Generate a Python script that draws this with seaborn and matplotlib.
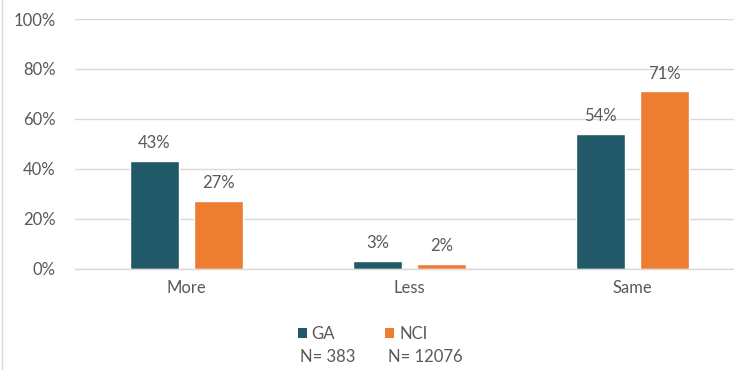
import pandas as pd
import matplotlib.pyplot as plt
import seaborn as sns
from matplotlib.patches import Patch
from matplotlib.lines import Line2D

categories = ['More', 'Less', 'Same']
ga_values = [43, 3, 54]
nci_values = [27, 2, 71]
groups = ['GA', 'NCI']
group_n = ['N= 383', 'N= 12076']
y_ticks = [0, 20, 40, 60, 80, 100]

colors = {'GA': '#215968', 'NCI': '#ED7D31'}
text_color = '#595959'

df = pd.DataFrame({
    'category': categories * 2,
    'group': ['GA'] * len(categories) + ['NCI'] * len(categories),
    'value': ga_values + nci_values,
})

sns.set_style('white')
plt.rcParams['font.family'] = ['Lato', 'DejaVu Sans']

fig = plt.figure(figsize=(7.34, 3.70), dpi=100)
ax = fig.add_axes([75 / 734, 101.5 / 370, 669 / 734, 249.5 / 370])

sns.barplot(data=df, x='category', y='value', hue='group', order=categories,
            hue_order=groups, palette=colors, width=0.574, gap=0.226,
            legend=False, ax=ax, saturation=1)

# Data labels above each bar
for container in ax.containers:
    ax.bar_label(container, fmt='%d%%', padding=7, fontsize=12, color=text_color)

ax.set_ylim(0, 100)
ax.set_xlim(-0.5, 2.5)
ax.set_yticks(y_ticks)
ax.set_yticklabels([f'{t}%' for t in y_ticks])
ax.yaxis.grid(True, color='#D9D9D9', linewidth=1)
ax.set_axisbelow(True)
ax.tick_params(axis='both', length=0, labelsize=12, labelcolor=text_color)
ax.tick_params(axis='y', pad=14)
ax.tick_params(axis='x', pad=8)
ax.set_xlabel('')
ax.set_ylabel('')
for side in ['top', 'right', 'left']:
    ax.spines[side].set_visible(False)
ax.spines['bottom'].set_color('#D9D9D9')
ax.spines['bottom'].set_linewidth(1)

# Legend at the bottom with sample sizes below
handles = [Patch(facecolor=colors[g], edgecolor='none') for g in groups]
fig.legend(handles, groups, loc='center', bbox_to_anchor=(0.494, 0.097), ncol=2,
           frameon=False, handlelength=0.55, handleheight=0.55, handletextpad=0.3,
           columnspacing=3.0, fontsize=12, labelcolor=text_color)
fig.text(300 / 734, 0.035, group_n[0], fontsize=12, color=text_color, va='center')
fig.text(388 / 734, 0.035, group_n[1], fontsize=12, color=text_color, va='center')

# thin chart-area border on the left
fig.add_artist(Line2D([2 / 734, 2 / 734], [0, 1], color='#D9D9D9', linewidth=1,
                      transform=fig.transFigure))

fig.savefig('out.png', dpi=100)
